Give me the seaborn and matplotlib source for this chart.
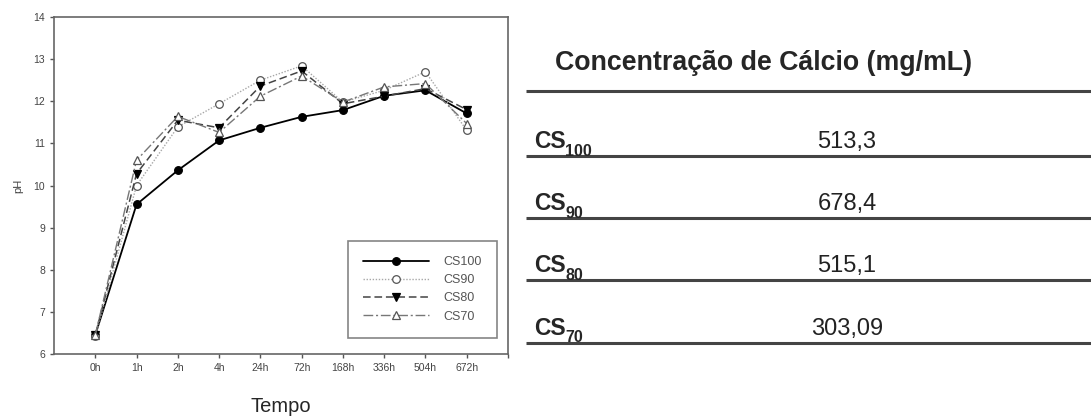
import pandas as pd
import matplotlib.pyplot as plt
import seaborn as sns

times = ["0h", "1h", "2h", "4h", "24h", "72h", "168h", "336h", "504h", "672h"]
cs100 = [6.45, 9.55, 10.36, 11.07, 11.37, 11.63, 11.79, 12.13, 12.26, 11.71]
cs90 = [6.42, 10.0, 11.39, 11.94, 12.50, 12.84, 11.98, 12.26, 12.70, 11.31]
cs80 = [6.45, 10.28, 11.55, 11.37, 12.36, 12.72, 11.94, 12.12, 12.30, 11.80]
cs70 = [6.45, 10.60, 11.64, 11.26, 12.12, 12.60, 11.98, 12.34, 12.42, 11.47]

# table on the right
groups = ["100", "90", "80", "70"]
calcio = ["513,3", "678,4", "515,1", "303,09"]

sns.set_style("ticks")
plt.rcParams['font.family'] = ['Liberation Sans', 'DejaVu Sans']

fig = plt.figure(figsize=(10.91, 4.16), dpi=100)

#-----pH over time-----
ax = fig.add_axes([54 / 1091, 62 / 416, 454 / 1091, 337 / 416])

series = {"CS100": cs100, "CS90": cs90, "CS80": cs80, "CS70": cs70}
styles = {
    "CS100": dict(color="black", marker="o", dashes=None, mfc="black", mec="black", lw=1.3),
    "CS90": dict(color="#a8a8a8", marker="o", dashes=(1, 1.2), mfc="white", mec="#555555", lw=1.0),
    "CS80": dict(color="#444444", marker="v", dashes=(5, 2.5), mfc="black", mec="black", lw=1.1),
    "CS70": dict(color="#777777", marker="^", dashes=(7, 2, 1.5, 2), mfc="white", mec="#555555", lw=1.0),
}

for name, vals in series.items():
    df = pd.DataFrame({"pos": range(len(times)), "ph": vals})
    st = styles[name]
    sns.lineplot(x="pos", y="ph", data=df, ax=ax, color=st["color"], marker=st["marker"],
                 markersize=5.5, lw=st["lw"], label=name)
    line = ax.lines[-1]
    if st["dashes"] is not None:
        line.set_dashes(st["dashes"])
    line.set_markerfacecolor(st["mfc"])
    line.set_markeredgecolor(st["mec"])
    line.set_markeredgewidth(0.9)

ax.set_xlim(-1, 10)
ax.set_ylim(6, 14)
ax.set_xticks(range(len(times)))
ax.set_xticklabels(times)
ax.set_xticks([10], minor=True)
ax.set_yticks(range(6, 15))
ax.tick_params(labelsize=7.5, labelcolor="#444444", color="#555555", length=3, width=1)
ax.tick_params(which="minor", color="#555555", length=3, width=1)
for s in ax.spines.values():
    s.set_color("#666666")
    s.set_linewidth(1.2)
ax.set_xlabel("Tempo", fontsize=14.5, labelpad=17)
ax.set_ylabel("pH", fontsize=8, color="#444444", labelpad=7)

leg = ax.legend(loc="lower right", bbox_to_anchor=(0.99, 0.03), fontsize=9, handlelength=5.3,
                handletextpad=1.2, labelspacing=0.5, borderpad=1.2, frameon=True,
                fancybox=False, edgecolor="#666666")
leg.get_frame().set_linewidth(1.2)
for t in leg.get_texts():
    t.set_color("#555555")

#-----Calcium table-----
tx = fig.add_axes([520 / 1091, 0, 571 / 1091, 1])
tx.set_xlim(520, 1091)
tx.set_ylim(416, 0)
tx.axis("off")

tx.text(764, 63, "Concentração de Cálcio (mg/mL)", fontsize=19.3, fontweight="bold",
        ha="center", va="center")
tx.plot([526, 1091], [91, 91], color="#444444", lw=2.2, solid_capstyle="butt")

row_lines = [156, 218, 280, 343]
for i, (g, v) in enumerate(zip(groups, calcio)):
    y = row_lines[i]
    tx.plot([526, 1091], [y, y], color="#444444", lw=2.2, solid_capstyle="butt")
    tx.text(534, y - 8, "CS", fontsize=16.5, fontweight="bold", ha="left", va="baseline")
    tx.text(565, y - 0.5, g, fontsize=11.5, fontweight="bold", ha="left", va="baseline")
    tx.text(847, y - 8, v, fontsize=17, ha="center", va="baseline", color="#222222")

fig.savefig("out.png", dpi=100)
